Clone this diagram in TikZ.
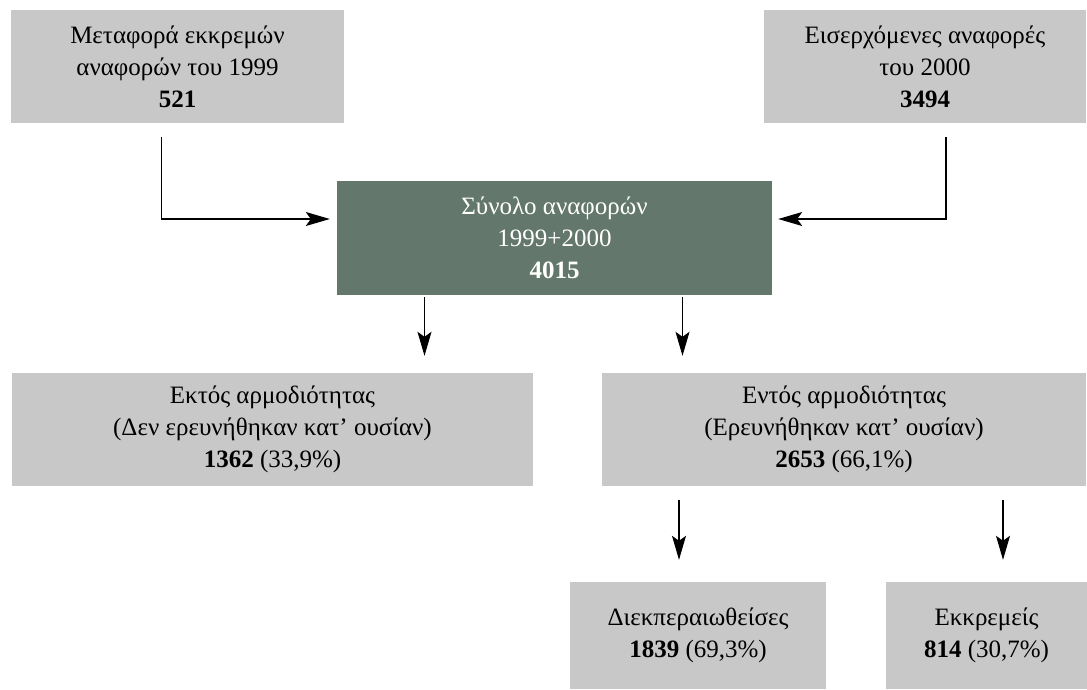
\documentclass[tikz,border=0pt]{standalone}
\usepackage{fontspec}
\setmainfont{Liberation Serif}
\usetikzlibrary{arrows.meta}

\definecolor{boxgrey}{RGB}{200,200,200}
\definecolor{totgreen}{RGB}{100,119,108}

\begin{document}
\begin{tikzpicture}[x=1pt, y=-1pt,
        box/.style={fill=boxgrey, align=center, inner sep=0pt,
            font=\fontsize{25}{32}\selectfont},
        arr/.style={-{Stealth[length=24pt, width=14pt, inset=5pt]}, line width=1.1pt}]
        \useasboundingbox (0,0) rectangle (1087,689);

        % Boxes on top
        \node[box, minimum width=333pt, minimum height=113pt] (prev) at (177.5,66.5)
            {Μεταφορά εκκρεμών\\αναφορών του 1999\\\textbf{521}};
        \node[box, minimum width=322pt, minimum height=113pt] (new) at (925,66.5)
            {Εισερχόμενες αναφορές\\του 2000\\\textbf{3494}};

        % Total
        \node[box, fill=totgreen, text=white, minimum width=435pt, minimum height=114pt] (tot) at (554.5,238)
            {Σύνολο αναφορών\\1999+2000\\\textbf{4015}};

        % Second row
        \node[box, minimum width=521pt, minimum height=113pt] (outside) at (272.5,429.5)
            {Εκτός αρμοδιότητας\\(Δεν ερευνήθηκαν κατ’ ουσίαν)\\\textbf{1362} (33,9\%)};
        \node[box, minimum width=484pt, minimum height=113pt] (inside) at (844,429.5)
            {Εντός αρμοδιότητας\\(Ερευνήθηκαν κατ’ ουσίαν)\\\textbf{2653} (66,1\%)};

        % Bottom row
        \node[box, minimum width=256pt, minimum height=107pt] (done) at (698,635.5)
            {Διεκπεραιωθείσες\\\textbf{1839} (69,3\%)};
        \node[box, minimum width=201pt, minimum height=107pt] (pending) at (986.5,635.5)
            {Εκκρεμείς\\\textbf{814} (30,7\%)};

        % Arrows into the total
        \draw[arr] ([xshift=-16pt, yshift=-14pt]prev.south) |- ([xshift=-7pt, yshift=19pt]tot.west);
        \draw[arr] ([xshift=21pt, yshift=-14pt]new.south) |- ([xshift=6pt, yshift=19pt]tot.east);

        % Arrows out of the total
        \draw[arr, shorten >=17pt] ([xshift=-130pt, yshift=-2pt]tot.south) -- ([xshift=-130pt]tot.south |- outside.north);
        \draw[arr, shorten >=17pt] ([xshift=128pt, yshift=-2pt]tot.south) -- ([xshift=128pt]tot.south |- inside.north);

        % Arrows out of the second box
        \draw[arr, shorten >=22pt] ([xshift=-165pt, yshift=-14pt]inside.south) -- ([xshift=-165pt]inside.south |- done.north);
        \draw[arr, shorten >=22pt] ([xshift=159pt, yshift=-14pt]inside.south) -- ([xshift=159pt]inside.south |- pending.north);
    \end{tikzpicture}
\end{document}
